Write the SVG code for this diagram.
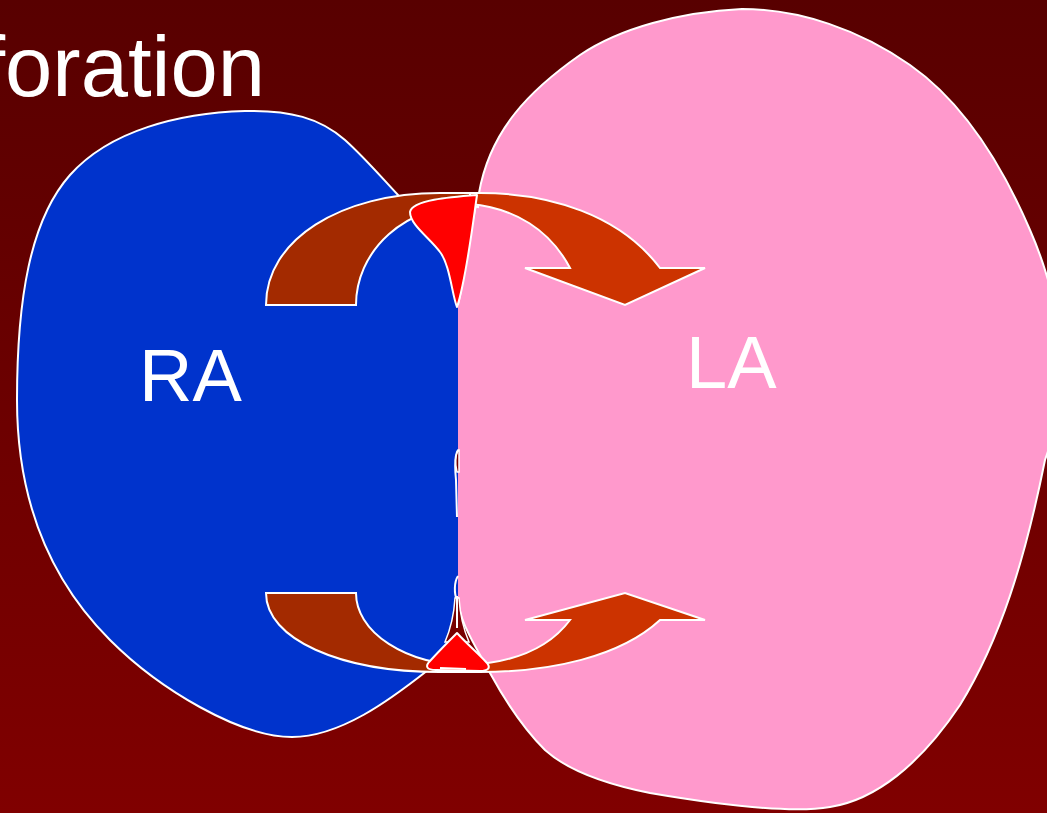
<svg xmlns="http://www.w3.org/2000/svg" width="1047" height="813" viewBox="0 0 1047 813">
  <defs>
    <linearGradient id="bg" x1="0" y1="0" x2="0" y2="1">
      <stop offset="0" stop-color="#580000"/>
      <stop offset="1" stop-color="#800000"/>
    </linearGradient>
    <style>
      .outline { fill: none; stroke: #ffffff; stroke-width: 2; stroke-linejoin: round; }
      .flow-a { fill: #a32a00; stroke: #ffffff; stroke-width: 2; stroke-linejoin: miter; }
      .flow-b { fill: #cc3300; stroke: #ffffff; stroke-width: 2; stroke-linejoin: miter; }
      .flap { fill: #ff0000; stroke: #ffffff; stroke-width: 2; stroke-linejoin: round; }
      .gap { fill: #780000; stroke: #ffffff; stroke-width: 1.5; }
      .label { font-family: "Liberation Sans", Arial, sans-serif; fill: #ffffff; }
    </style>
  </defs>

  <!-- backdrop -->
  <rect x="0" y="0" width="1047" height="813" fill="url(#bg)"/>

  <!-- title, running off the left edge -->
  <g id="title">
    <text class="label" x="265" y="96" font-size="85" text-anchor="end">foration</text>
  </g>

  <!-- right atrium -->
  <g id="ra">
    <path fill="#0033cc" d="M 245,111 C 290,110 320,118 345,140 C 365,158 382,178 398,195 C 430,228 458,255 460,300 L 460,600 C 458,630 448,655 428,670 C 390,700 340,737 292,737 C 240,737 160,690 110,640 C 50,580 17,500 17,400 C 17,300 30,220 70,175 C 110,130 180,113 245,111 Z"/>
    <path class="outline" d="M 460,600 C 458,630 448,655 428,670 C 390,700 340,737 292,737 C 240,737 160,690 110,640 C 50,580 17,500 17,400 C 17,300 30,220 70,175 C 110,130 180,113 245,111 C 290,110 320,118 345,140 C 365,158 382,178 398,195 C 430,228 458,255 460,300"/>
    <text class="label" x="139" y="401" font-size="74">RA</text>
  </g>

  <!-- left atrium -->
  <g id="la">
    <path fill="#ff99cc" d="M 458,597 L 458,305 C 466,270 470,225 479,193 C 490,130 530,90 580,55 C 620,28 680,12 742,9 C 800,9 860,30 910,65 C 960,100 1000,160 1030,230 C 1065,310 1070,390 1045,460 C 1025,560 1000,640 960,705 C 920,765 875,800 830,807 C 790,814 720,805 650,793 C 600,783 565,768 545,750 C 520,725 502,695 490,673 C 475,645 458,620 458,597 Z"/>
    <path class="outline" d="M 458,305 C 466,270 470,225 479,193 C 490,130 530,90 580,55 C 620,28 680,12 742,9 C 800,9 860,30 910,65 C 960,100 1000,160 1030,230 C 1065,310 1070,390 1045,460 C 1025,560 1000,640 960,705 C 920,765 875,800 830,807 C 790,814 720,805 650,793 C 600,783 565,768 545,750 C 520,725 502,695 490,673 C 475,645 458,620 458,597"/>
    <text class="label" x="686" y="388" font-size="74">LA</text>
  </g>

  <!-- septal gaps -->
  <g id="septum">
    <path class="gap" d="M 458,450 C 455,456 455,464 457,472 L 459,472 L 459,450 Z"/>
    <path class="outline" stroke-width="1.5" d="M 458,450 C 454,456 455,470 456,480 L 457,517"/>
    <path class="outline" stroke-width="1.5" d="M 458,576 C 454,582 454,594 457,600"/>
    <path class="gap" d="M 455,598 C 454,614 451,628 445,642 L 469,642 C 463,628 460,614 459,598 Z"/>
    <path class="outline" stroke-width="1.5" d="M 457,596 L 457,628"/>
  </g>

  <!-- shunt flow arrows -->
  <g id="connectors">
    <g id="flow-top">
      <path class="flow-a" d="M 266,305 C 266,240 340,193 440,193 L 478,193 L 478,207 L 468,205 A 112,100 0 0 0 356,305 Z"/>
      <path class="flow-b" d="M 470,193 L 480,193 C 550,193 620,215 660,268 L 705,268 L 625,305 L 525,268 L 570,268 C 550,230 515,208 470,204 Z"/>
    </g>
    <g id="flow-bottom">
      <path class="flow-a" d="M 266,593 L 356,593 A 112,72 0 0 0 468,665 L 478,665 L 478,672 L 440,672 C 340,672 266,639 266,593 Z"/>
      <path class="flow-b" d="M 470,672 L 480,672 C 550,672 620,657 660,620 L 705,620 L 625,593 L 525,620 L 570,620 C 550,647 515,662 470,665 Z"/>
    </g>
  </g>

  <!-- septal flaps -->
  <g id="flap-top">
    <path class="flap" d="M 457,307 C 452,295 450,265 440,252 C 430,238 410,225 410,212 C 412,200 450,197 477,195 C 472,230 466,280 457,307 Z"/>
  </g>
  <g id="flap-bottom">
    <path class="flap" d="M 457,633 C 468,645 480,655 487,663 C 491,668 488,671 480,671 L 436,670 C 426,670 425,666 430,661 C 440,650 450,640 457,633 Z"/>
    <path class="outline" d="M 440,668 L 466,669"/>
  </g>
</svg>
